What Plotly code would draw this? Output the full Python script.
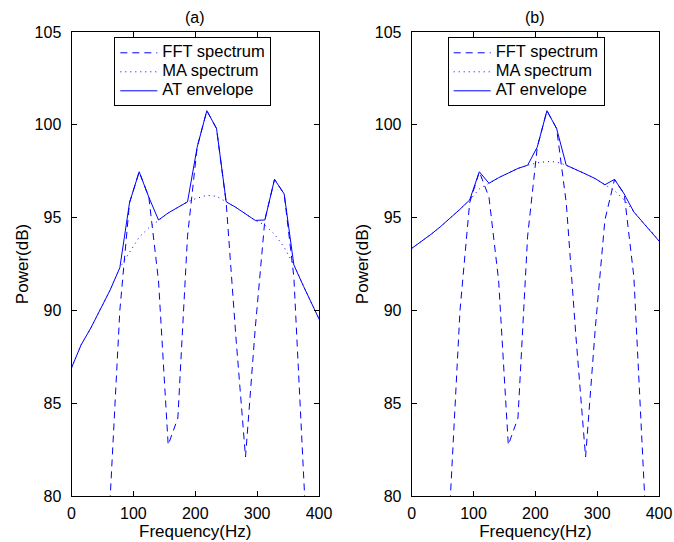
import plotly.graph_objects as go

# Frequency bins (Hz)
freq = [0, 15.625, 31.25, 46.875, 62.5, 78.125, 93.75, 109.375, 125, 140.625,
        156.25, 171.875, 187.5, 203.125, 218.75, 234.375, 250, 265.625, 281.25,
        296.875, 312.5, 328.125, 343.75, 359.375, 375, 390.625, 406.25]

# FFT spectrum (dB), same in both panels
fft_db = [50, 55, 60, 68, 79.9, 90.0, 95.8, 97.47, 96.1, 91.6,
          82.75, 84.2, 94.0, 98.8, 100.76, 99.8, 95.8, 88.6, 82.1,
          89.0, 94.87, 97.06, 96.27, 91.8, 80.5, 68, 60]

# Panel (a)
ma_a = [86.9, 88.15, 89.05, 90.05, 91.1, 92.3, 93.15, 93.95, 94.45, 94.87,
        95.25, 95.55, 95.85, 96.05, 96.2, 96.15, 95.85, 95.55, 95.2,
        94.85, 94.6, 94.1, 93.4, 92.45, 91.3, 90.25, 89.1]
env_a = [86.9, 88.15, 89.05, 90.05, 91.1, 92.3, 95.8, 97.47, 96.1, 94.87,
         95.25, 95.55, 95.85, 98.8, 100.76, 99.8, 95.85, 95.55, 95.2,
         94.85, 94.87, 97.06, 96.27, 92.45, 91.3, 90.25, 89.1]

# Panel (b)
ma_b = [93.34, 93.7, 94.1, 94.52, 94.96, 95.45, 95.95, 96.55, 96.85, 97.15,
        97.4, 97.65, 97.82, 97.95, 98.02, 98.0, 97.82, 97.6, 97.35,
        97.1, 96.77, 96.45, 95.95, 95.3, 94.7, 94.15, 93.5]
env_b = [93.34, 93.7, 94.1, 94.52, 94.96, 95.45, 95.95, 97.47, 96.85, 97.15,
         97.4, 97.65, 97.82, 98.8, 100.76, 99.8, 97.82, 97.6, 97.35,
         97.1, 96.77, 97.06, 96.27, 95.3, 94.7, 94.15, 93.5]

x_ticks = [0, 100, 200, 300, 400]
y_ticks = [80, 85, 90, 95, 100, 105]
panel_titles = ["(a)", "(b)"]
series_names = ["FFT spectrum", "MA spectrum", "AT envelope"]

W, H = 674, 542
BLUE = "#0000ff"
FONT = "Liberation Sans, Arial, Helvetica, sans-serif"


def legend_name(n):
    return "<span style='font-size:16.5px'>" + n + "</span>"


fig = go.Figure()

panels = [
    (ma_a, env_a, "x", "y", "legend"),
    (ma_b, env_b, "x2", "y2", "legend2"),
]
for ma, env, xa, ya, leg in panels:
    fig.add_trace(go.Scatter(x=freq, y=fft_db, mode="lines", name=legend_name(series_names[0]),
                             line=dict(color=BLUE, width=1, dash="7px,5px"),
                             xaxis=xa, yaxis=ya, legend=leg))
    fig.add_trace(go.Scatter(x=freq, y=ma, mode="lines", name=legend_name(series_names[1]),
                             line=dict(color=BLUE, width=1, dash="1px,4px"),
                             xaxis=xa, yaxis=ya, legend=leg))
    fig.add_trace(go.Scatter(x=freq, y=env, mode="lines", name=legend_name(series_names[2]),
                             line=dict(color=BLUE, width=1),
                             xaxis=xa, yaxis=ya, legend=leg))

x_dom = [[71.5 / W, 319 / W], [411.7 / W, 659 / W]]
y_dom = [1 - 496 / H, 1 - 32 / H]

axis_common = dict(showline=True, linecolor="black", linewidth=1, mirror="ticks",
                   ticks="inside", ticklen=5, tickcolor="black", showgrid=False,
                   zeroline=False, automargin=False,
                   tickfont=dict(size=16, color="black", family=FONT))

xa_cfg = dict(axis_common, range=[0, 400], tickvals=x_ticks, ticklabelstandoff=3,
              title=dict(text="Frequency(Hz)", font=dict(size=17, color="black", family=FONT),
                         standoff=0))
ya_cfg = dict(axis_common, range=[80, 105], tickvals=y_ticks, ticklabelstandoff=6,
              title=dict(text="Power(dB)", font=dict(size=17, color="black", family=FONT),
                         standoff=1))

leg_common = dict(xanchor="left", yanchor="top", bordercolor="black", borderwidth=1,
                  bgcolor="white", itemwidth=37, tracegroupgap=0,
                  font=dict(size=12, family=FONT, color="black"))

fig.update_layout(
    template="none",
    width=W, height=H,
    margin=dict(l=0, r=0, t=0, b=0, pad=0),
    paper_bgcolor="white", plot_bgcolor="white",
    font=dict(family=FONT, color="black"),
    xaxis=dict(xa_cfg, domain=x_dom[0], anchor="y"),
    yaxis=dict(ya_cfg, domain=y_dom, anchor="x"),
    xaxis2=dict(xa_cfg, domain=x_dom[1], anchor="y2"),
    yaxis2=dict(ya_cfg, domain=y_dom, anchor="x2"),
    legend=dict(leg_common, x=114.3 / W, y=1 - 37.3 / H),
    legend2=dict(leg_common, x=447.7 / W, y=1 - 37.3 / H),
    showlegend=True,
)

for i, t in enumerate(panel_titles):
    xc = (x_dom[i][0] + x_dom[i][1]) / 2
    fig.add_annotation(text=t, x=xc, y=1 - 18 / H, xref="paper", yref="paper",
                       showarrow=False, xanchor="center", yanchor="middle",
                       font=dict(size=16, family=FONT, color="black"))

fig.write_html("out.html")
